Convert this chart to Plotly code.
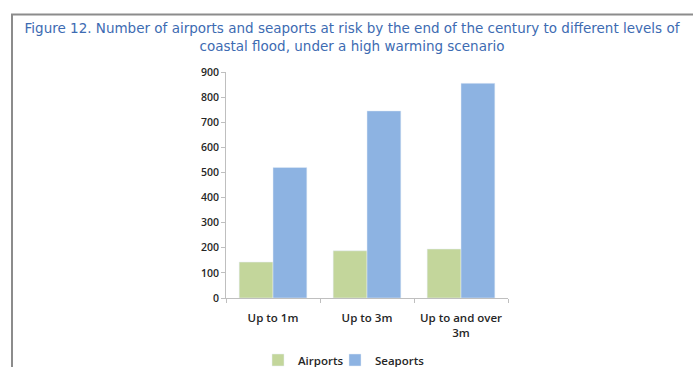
import plotly.graph_objects as go

categories = ["Up to 1m", "Up to 3m", "Up to and over<br>3m"]
airports = [143, 188, 195]
seaports = [520, 745, 855]
y_ticks = [0, 100, 200, 300, 400, 500, 600, 700, 800, 900]

W, H = 693, 367
L, R, T, B = 226, 508, 72, 298

def px_x(p):
    return (p - L) / (R - L)

def px_y(p):
    return (B - p) / (B - T)

font_fam = "Open Sans, sans-serif"
leg_font = dict(family=font_fam, size=11.5, color="#262626", weight=600)

fig = go.Figure()
fig.add_trace(go.Bar(name="Airports", x=categories, y=airports, marker_color="#c3d69b", legend="legend"))
fig.add_trace(go.Bar(name="Seaports", x=categories, y=seaports, marker_color="#8db3e2", legend="legend2"))

fig.update_layout(
    width=W, height=H,
    margin=dict(l=L, r=W - R, t=T, b=H - B, pad=0, autoexpand=False),
    paper_bgcolor="white", plot_bgcolor="white",
    barmode="group", bargap=0.28, bargroupgap=0,
    title=dict(
        text="Figure 12. Number of airports and seaports at risk by the end of the century to different levels of<br>coastal flood, under a high warming scenario",
        x=352 / W, xanchor="center", xref="container",
        y=1 - 33 / H, yanchor="middle", yref="container",
        font=dict(family="DejaVu Sans", size=13.5, color="#3d6bb2"),
    ),
    showlegend=True,
    legend=dict(
        orientation="h", x=258 / W, xanchor="left", xref="container",
        y=1 - 360 / H, yanchor="middle", yref="container",
        font=leg_font, itemwidth=30, tracegroupgap=0, bgcolor="rgba(0,0,0,0)",
    ),
    legend2=dict(
        orientation="h", x=335 / W, xanchor="left", xref="container",
        y=1 - 360 / H, yanchor="middle", yref="container",
        font=leg_font, itemwidth=30, tracegroupgap=0, bgcolor="rgba(0,0,0,0)",
    ),
    yaxis=dict(
        range=[0, 900], tickvals=y_ticks, showgrid=False, zeroline=False,
        showline=True, linecolor="#bfbfbf", linewidth=1,
        ticks="outside", ticklen=4, tickcolor="#bfbfbf", ticksuffix="\u00a0\u00a0\u00a0",
        tickfont=dict(family=font_fam, size=10.5, color="#262626", weight=600),
    ),
    xaxis=dict(
        showgrid=False, showline=True, linecolor="#bfbfbf", linewidth=1,
        ticks="outside", ticklen=4, tickcolor="#bfbfbf", tickson="boundaries",
        ticklabelstandoff=9,
        tickfont=dict(family=font_fam, size=11.5, color="#262626", weight=600),
    ),
    shapes=[
        dict(type="line", xref="paper", yref="paper", x0=px_x(11), x1=px_x(700), y0=px_y(14.5), y1=px_y(14.5),
             line=dict(color="#8c8c8c", width=2)),
        dict(type="line", xref="paper", yref="paper", x0=px_x(12), x1=px_x(12), y0=px_y(14.5), y1=px_y(370),
             line=dict(color="#8c8c8c", width=2)),
    ],
)

fig.write_html("out.html")
